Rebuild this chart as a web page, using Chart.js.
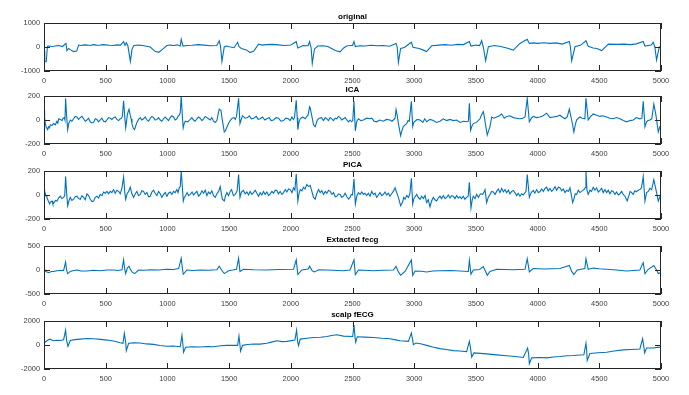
<!DOCTYPE html>
<html lang="en">
<head>
    <meta charset="UTF-8">
    <title>original / ICA / PiCA / Extacted fecg / scalp fECG</title>
    <script src="https://cdn.jsdelivr.net/npm/chart.js"></script>
    <style>
        html, body { margin: 0; padding: 0; background: #fff; }
        body { width: 689px; height: 395px; position: relative; overflow: hidden; }
        .panel { position: absolute; left: 0; width: 689px; height: 86px; }
    </style>
</head>
<body>
    <div class="panel" style="top:3px"><canvas id="c0" width="689" height="86"></canvas></div>
    <div class="panel" style="top:76px"><canvas id="c1" width="689" height="86"></canvas></div>
    <div class="panel" style="top:151px"><canvas id="c2" width="689" height="86"></canvas></div>
    <div class="panel" style="top:226px"><canvas id="c3" width="689" height="86"></canvas></div>
    <div class="panel" style="top:301px"><canvas id="c4" width="689" height="86"></canvas></div>

    <script>
        // sample index (0..5000) and amplitude
        const original = [
            [0,-150],[6,-600],[18,-620],[28,30],[40,40],[60,20],[80,30],[100,50],[120,60],[150,20],[178,150],[186,-150],
            [200,-60],[215,-120],[240,-190],[265,-170],[281,80],[300,60],[325,90],[350,80],[375,60],[400,100],[425,80],[450,70],[475,100],[500,90],
            [530,70],[560,60],[590,90],[620,80],[645,230],[656,70],[667,180],[680,40],[700,-600],[713,-100],[726,50],[760,80],[800,60],
            [830,30],[861,0],[900,-180],[930,-220],[960,-100],[996,60],[1020,80],[1050,60],[1080,90],[1104,40],[1112,320],[1126,40],[1160,60],[1200,70],
            [1250,100],[1300,80],[1350,50],[1400,60],[1420,260],[1430,50],[1442,-600],[1461,10],[1480,40],[1500,10],[1540,-30],[1569,200],[1580,10],
            [1600,-60],[1640,-120],[1670,-230],[1700,-170],[1739,120],[1770,80],[1800,100],[1850,110],[1900,90],[1950,60],[2000,80],[2044,220],[2057,-40],
            [2100,60],[2140,50],[2152,220],[2165,-50],[2174,-680],[2192,-80],[2220,40],[2260,50],[2300,20],[2330,-60],[2360,-150],[2400,-200],
            [2426,-50],[2453,40],[2480,60],[2500,60],[2512,230],[2523,20],[2560,50],[2600,40],[2650,70],[2700,50],[2750,60],[2800,30],[2853,150],[2862,0],
            [2872,-640],[2890,-60],[2920,-20],[2977,200],[2990,-10],[3040,-60],[3070,-120],[3100,-190],[3142,50],[3200,80],[3250,100],[3300,70],[3350,110],[3400,100],
            [3447,230],[3460,40],[3500,80],[3530,60],[3547,260],[3560,0],[3579,-570],[3601,10],[3650,60],[3700,20],[3750,-40],[3803,-130],
            [3857,150],[3916,320],[3933,150],[3970,170],[4000,150],[4050,180],[4100,150],[4150,170],[4200,120],[4257,230],[4266,0],[4276,-580],[4303,10],
            [4350,80],[4392,260],[4410,30],[4450,-40],[4480,-60],[4519,-150],[4573,120],[4640,110],[4700,120],[4750,100],[4800,130],[4856,230],[4870,40],
            [4920,80],[4937,190],[4950,0],[4964,-540],[4986,0],[5000,30]
        ];

        const ica = [
            [0,80],[5,20],[11,-30],[18,-60],[24,-70],[30,-80],[38,-55],[45,-65],[51,-40],[65,-45],[78,-30],[92,-40],
            [105,-10],[112,-25],[119,10],[132,5],[146,-5],[155,15],[165,20],[170,0],[175,180],[183,40],[192,-80],[200,-30],
            [213,0],[226,-10],[240,10],[253,30],[267,25],[280,5],[294,20],[307,30],[321,10],[334,-10],[348,0],[361,15],
            [375,-15],[388,-25],[402,-20],[415,10],[429,5],[442,-15],[456,0],[469,15],[483,-10],[496,-15],[510,0],[523,20],
            [537,15],[550,5],[564,20],[577,25],[591,5],[604,-5],[618,10],[628,15],[635,30],[645,160],[655,20],[662,-65],
            [668,-20],[675,40],[682,70],[689,90],[699,40],[706,10],[713,-30],[724,-70],[734,-80],[743,-50],[753,-20],[766,5],
            [780,20],[793,0],[807,10],[820,25],[834,0],[847,-10],[861,15],[874,30],[888,20],[901,0],[915,5],[928,20],
            [942,0],[955,-10],[969,10],[982,25],[996,10],[1009,-5],[1023,20],[1036,35],[1050,25],[1063,0],[1077,10],[1086,30],
            [1096,40],[1104,60],[1112,200],[1122,20],[1128,-65],[1136,-30],[1145,-10],[1165,-15],[1185,5],[1198,20],[1212,0],[1225,-10],
            [1239,10],[1252,25],[1266,15],[1280,-5],[1293,10],[1306,30],[1320,20],[1333,10],[1347,0],[1360,20],[1374,-10],[1388,-20],
            [1401,-5],[1413,60],[1420,90],[1434,80],[1442,20],[1450,-30],[1461,-100],[1470,-90],[1482,-60],[1495,-30],[1509,-5],[1525,15],
            [1540,20],[1550,5],[1560,30],[1577,180],[1588,-30],[1600,10],[1608,35],[1615,30],[1630,15],[1650,20],[1665,35],[1680,10],
            [1700,15],[1720,30],[1735,5],[1752,10],[1770,25],[1790,0],[1806,10],[1825,20],[1840,-5],[1860,0],[1880,20],[1900,15],
            [1920,-10],[1941,-5],[1960,15],[1980,10],[1995,-5],[2009,25],[2020,5],[2030,20],[2044,165],[2052,20],[2057,-80],[2066,-20],
            [2076,10],[2095,25],[2117,10],[2130,30],[2140,40],[2152,110],[2158,100],[2165,60],[2175,10],[2184,-40],[2198,-55],[2215,0],
            [2230,15],[2250,20],[2258,5],[2265,-5],[2280,20],[2292,10],[2305,-5],[2319,20],[2332,10],[2346,-5],[2360,15],[2373,10],
            [2386,30],[2400,20],[2413,0],[2427,10],[2440,20],[2454,0],[2468,-15],[2480,0],[2492,-15],[2502,-5],[2512,155],[2518,20],
            [2523,-90],[2535,-10],[2548,10],[2568,-5],[2588,0],[2615,15],[2642,10],[2656,15],[2675,-10],[2696,-15],[2720,0],[2750,-10],
            [2775,5],[2804,0],[2820,-10],[2831,0],[2845,15],[2853,87],[2862,40],[2872,-30],[2890,-130],[2900,-90],[2912,-55],[2925,-40],
            [2939,-30],[2950,-5],[2960,-10],[2977,155],[2988,-55],[2997,-20],[3007,-10],[3025,5],[3047,0],[3070,-20],[3085,10],[3101,-15],
            [3128,5],[3155,-5],[3180,-20],[3209,-10],[3235,10],[3263,-5],[3290,5],[3317,-5],[3345,0],[3371,-20],[3400,-10],[3425,-15],
            [3439,-10],[3447,140],[3457,-85],[3468,-50],[3479,-30],[3505,-20],[3533,10],[3545,40],[3560,70],[3568,30],[3575,-20],[3592,-125],
            [3614,-55],[3628,25],[3645,15],[3668,25],[3690,35],[3709,50],[3730,15],[3749,30],[3775,35],[3803,20],[3830,15],[3857,10],
            [3878,15],[3898,25],[3916,180],[3933,-15],[3950,15],[3965,30],[3990,20],[4019,25],[4045,35],[4073,57],[4100,20],[4127,25],
            [4155,30],[4181,40],[4200,25],[4222,10],[4240,25],[4257,90],[4276,0],[4294,-100],[4305,-40],[4316,0],[4330,15],[4343,25],
            [4362,15],[4383,10],[4392,180],[4410,0],[4430,30],[4451,50],[4478,40],[4505,30],[4530,35],[4559,25],[4585,15],[4613,10],
            [4640,20],[4667,10],[4695,-5],[4721,-15],[4750,-5],[4775,0],[4800,20],[4829,10],[4845,15],[4856,155],[4870,-55],[4883,-15],
            [4895,-5],[4910,0],[4925,10],[4942,133],[4959,40],[4978,-100],[4991,-55],[5000,-45]
        ];

        const pica = [
            [0,45],[5,30],[11,10],[18,-10],[24,-20],[35,-50],[46,-75],[55,-55],[65,-50],[72,-75],[78,-70],[92,-45],
            [105,-50],[118,-25],[132,-10],[145,-30],[159,-20],[168,-5],[175,155],[186,-20],[192,-90],[202,-50],[213,-20],[226,-45],
            [240,-35],[253,-15],[267,-10],[280,-30],[294,-35],[307,-5],[321,-20],[334,-40],[348,10],[361,-5],[375,-35],[388,-55],
            [402,-50],[415,-20],[429,-10],[442,-25],[456,5],[470,-5],[483,25],[496,15],[510,30],[523,10],[537,30],[550,20],
            [564,45],[577,15],[591,40],[605,30],[618,10],[632,60],[645,150],[655,20],[662,-35],[673,10],[686,30],[699,65],
            [712,10],[726,-20],[740,10],[753,30],[766,-5],[780,5],[793,35],[807,30],[820,5],[834,20],[847,-15],[861,-10],
            [874,25],[888,40],[901,15],[915,-5],[928,30],[942,10],[955,-20],[969,5],[982,20],[996,-10],[1009,15],[1023,25],
            [1036,5],[1050,30],[1063,20],[1077,45],[1086,20],[1096,60],[1104,70],[1112,200],[1129,-50],[1137,-20],[1145,-10],[1160,20],
            [1172,-5],[1185,5],[1200,25],[1212,0],[1225,15],[1239,30],[1252,-10],[1266,5],[1280,35],[1293,15],[1307,40],[1320,-5],
            [1333,25],[1347,10],[1360,35],[1374,-5],[1388,-20],[1401,10],[1415,30],[1428,70],[1436,20],[1445,-35],[1461,-50],[1470,-10],
            [1482,20],[1495,-5],[1509,30],[1520,45],[1535,-5],[1550,5],[1565,35],[1577,170],[1588,-20],[1600,25],[1615,38],[1630,10],
            [1644,25],[1658,0],[1670,30],[1685,5],[1698,20],[1712,40],[1725,15],[1739,-10],[1752,20],[1765,0],[1779,30],[1792,5],
            [1806,25],[1820,-5],[1833,10],[1847,30],[1860,15],[1874,40],[1887,38],[1900,10],[1914,30],[1928,5],[1941,20],[1955,45],
            [1968,25],[1982,50],[1995,45],[2009,20],[2022,60],[2033,40],[2044,175],[2057,-50],[2066,10],[2076,45],[2090,35],[2103,65],
            [2115,50],[2130,87],[2145,70],[2157,80],[2168,40],[2184,-20],[2198,-35],[2210,10],[2225,45],[2238,20],[2252,35],[2265,5],
            [2280,30],[2292,15],[2306,40],[2319,30],[2333,5],[2346,20],[2360,-15],[2373,-10],[2386,10],[2400,5],[2413,-20],[2427,-10],
            [2440,15],[2454,-15],[2468,-35],[2480,-20],[2490,5],[2500,0],[2512,135],[2523,-75],[2535,-10],[2548,20],[2562,5],[2575,25],
            [2588,5],[2600,15],[2615,-5],[2628,15],[2642,-10],[2656,30],[2670,5],[2683,15],[2696,-20],[2710,0],[2723,20],[2737,-5],
            [2750,5],[2764,25],[2777,0],[2790,15],[2804,-10],[2817,10],[2831,30],[2845,60],[2858,20],[2872,-20],[2890,-90],[2905,-60],
            [2916,-20],[2926,-35],[2940,-5],[2953,-20],[2965,10],[2977,140],[2988,-75],[2997,-30],[3007,-15],[3020,5],[3033,-20],[3047,-35],
            [3060,-10],[3074,-30],[3088,-5],[3101,-63],[3114,-40],[3128,-98],[3141,-50],[3155,-20],[3168,-40],[3182,-50],[3195,-25],[3209,-10],
            [3222,-30],[3236,-5],[3250,-30],[3263,-20],[3277,0],[3290,-25],[3303,-5],[3317,-10],[3330,-30],[3344,-5],[3357,-25],[3371,-15],
            [3384,-30],[3398,-10],[3411,-35],[3425,-20],[3437,-10],[3447,105],[3460,-108],[3470,-40],[3479,-10],[3493,-30],[3506,5],[3520,-20],
            [3537,10],[3555,5],[3564,20],[3574,45],[3587,-63],[3600,-20],[3614,5],[3628,30],[3641,25],[3655,5],[3668,30],[3682,50],
            [3695,20],[3709,55],[3722,25],[3736,45],[3749,20],[3763,40],[3776,10],[3790,30],[3803,38],[3816,20],[3830,-5],[3843,15],
            [3857,-10],[3870,10],[3884,0],[3898,20],[3906,30],[3916,170],[3933,-20],[3948,20],[3965,38],[3978,15],[3992,45],[4005,20],
            [4019,27],[4033,50],[4046,30],[4060,55],[4073,65],[4086,35],[4100,55],[4114,30],[4127,45],[4141,70],[4154,40],[4168,65],
            [4181,60],[4195,35],[4208,50],[4222,20],[4235,40],[4249,30],[4262,60],[4272,10],[4284,-63],[4295,-30],[4305,10],[4316,5],
            [4330,40],[4343,20],[4357,30],[4375,45],[4385,60],[4392,200],[4400,40],[4410,5],[4424,40],[4437,30],[4451,65],[4465,40],
            [4478,60],[4492,25],[4505,38],[4519,55],[4532,20],[4546,45],[4559,20],[4573,40],[4586,10],[4600,35],[4613,30],[4627,5],
            [4640,25],[4654,0],[4667,10],[4681,30],[4694,5],[4708,-10],[4726,-50],[4740,-5],[4750,30],[4762,20],[4775,5],[4788,35],
            [4802,27],[4815,40],[4829,45],[4842,60],[4856,155],[4870,-50],[4883,20],[4897,30],[4910,55],[4924,45],[4932,80],[4942,128],
            [4959,45],[4978,-50],[4991,-15],[5000,-20]
        ];

        const fecg = [
            [0,60],[11,-30],[38,-55],[60,-30],[78,-30],[105,-15],[132,-10],[159,-10],[175,165],[183,0],[192,-75],[213,-30],
            [240,-10],[267,0],[300,-20],[348,-20],[400,-5],[456,-15],[510,0],[564,0],[600,-10],[632,5],[645,210],[655,0],[662,-75],[675,40],[689,80],
            [699,20],[713,-40],[734,-75],[767,0],[810,-5],[861,5],[930,0],[996,15],[1050,10],[1091,30],[1112,245],[1122,20],[1129,-90],
            [1158,0],[1210,-10],[1266,0],[1330,-5],[1401,5],[1420,80],[1442,-10],[1461,-75],[1496,-15],[1530,0],[1560,15],[1577,245],[1588,-30],
            [1615,15],[1700,5],[1806,0],[1900,10],[2022,15],[2044,210],[2057,-95],[2090,0],[2140,20],[2152,80],[2174,-15],[2192,-40],
            [2225,5],[2290,0],[2346,-5],[2426,-15],[2480,0],[2512,210],[2523,-95],[2548,0],[2600,-5],[2669,-15],[2750,-5],[2831,0],[2853,75],
            [2872,-40],[2890,-110],[2926,-30],[2977,210],[2988,-110],[3007,-20],[3060,-25],[3101,-40],[3150,-20],[3209,-15],[3300,-10],[3439,-30],[3447,200],
            [3460,-90],[3479,0],[3530,10],[3560,70],[3579,-30],[3592,-110],[3614,-30],[3668,15],[3740,10],[3803,5],[3898,15],[3916,235],
            [3933,-40],[3965,30],[4050,20],[4181,30],[4257,95],[4276,-30],[4294,-95],[4321,0],[4383,30],[4392,235],[4410,15],
            [4451,40],[4500,25],[4559,15],[4640,0],[4721,-20],[4829,0],[4856,155],[4870,-75],[4897,15],[4942,95],[4964,0],[4978,-75],
            [5000,-55]
        ];

        const scalp = [
            [0,165],[24,350],[46,490],[78,350],[105,400],[132,380],[159,440],[175,1230],[183,400],[194,-110],[213,380],
            [250,450],[294,490],[350,540],[402,520],[460,470],[510,410],[564,330],[618,190],[640,140],[651,960],[662,200],[667,-470],[686,140],
            [730,180],[780,165],[830,90],[888,55],[940,-40],[996,-110],[1050,-80],[1104,-140],[1118,800],[1126,0],[1131,-600],[1148,-190],[1200,-140],[1266,-165],[1320,-120],[1374,-140],
            [1430,-60],[1482,-30],[1569,-30],[1580,740],[1588,0],[1593,-520],[1609,-30],[1650,40],[1698,80],[1750,70],[1806,140],[1850,260],[1887,355],[1930,280],[1968,300],
            [2033,410],[2047,1230],[2055,300],[2063,-55],[2076,490],[2130,560],[2184,630],[2240,650],[2292,710],[2330,790],[2373,850],[2427,740],[2502,710],
            [2512,1670],[2520,700],[2526,220],[2539,690],[2600,660],[2669,630],[2740,560],[2804,520],[2850,430],[2885,355],[2953,300],[2977,990],[2988,400],
            [2993,30],[3015,165],[3060,80],[3101,-30],[3150,-170],[3209,-300],[3260,-380],[3317,-470],[3370,-500],[3425,-550],[3447,300],[3457,-300],[3466,-1010],[3484,-660],
            [3587,-740],[3670,-820],[3749,-900],[3820,-960],[3884,-1040],[3919,-250],[3928,-800],[3933,-1560],[3952,-1070],[4010,-1040],[4073,-1070],[4130,-1000],[4181,-960],[4240,-900],[4289,-880],
            [4375,-820],[4392,140],[4398,-500],[4402,-1290],[4424,-710],[4490,-650],[4559,-600],[4620,-500],[4694,-410],[4760,-370],[4829,-330],[4851,520],[4860,-100],
            [4867,-660],[4883,-250],[4937,-250],[4970,-200],[5000,-165]
        ];

        const titles = ['original', 'ICA', 'PiCA', 'Extacted fecg', 'scalp fECG'];
        const series = [original, ica, pica, fecg, scalp];
        const yLimits = [1000, 200, 200, 500, 2000];
        const xTicksStep = 500;

        const FONT = "'Liberation Sans', Arial, Helvetica, sans-serif";

        // MATLAB-like box, inward ticks on all four sides and bold title
        function matlabAxes(title) {
            return {
                id: 'matlabAxes',
                afterDraw(chart) {
                    const { ctx, chartArea: a, scales } = chart;
                    const tl = 6;
                    ctx.save();
                    ctx.strokeStyle = '#262626';
                    ctx.lineWidth = 1;
                    ctx.beginPath();
                    scales.x.ticks.forEach(t => {
                        const px = Math.round(scales.x.getPixelForValue(t.value)) + 0.5;
                        ctx.moveTo(px, a.bottom); ctx.lineTo(px, a.bottom - tl);
                        ctx.moveTo(px, a.top); ctx.lineTo(px, a.top + tl);
                    });
                    scales.y.ticks.forEach(t => {
                        const py = Math.round(scales.y.getPixelForValue(t.value)) + 0.5;
                        ctx.moveTo(a.left, py); ctx.lineTo(a.left + tl, py);
                        ctx.moveTo(a.right, py); ctx.lineTo(a.right - tl, py);
                    });
                    ctx.stroke();
                    ctx.strokeRect(a.left + 0.5, a.top + 0.5, a.right - a.left - 1, a.bottom - a.top - 1);
                    ctx.fillStyle = '#000';
                    ctx.font = 'bold 8px ' + FONT;
                    ctx.textAlign = 'center';
                    ctx.textBaseline = 'alphabetic';
                    ctx.fillText(title, (a.left + a.right) / 2, a.top - 4);
                    ctx.restore();
                }
            };
        }

        series.forEach((pts, i) => {
            const lim = yLimits[i];
            new Chart(document.getElementById('c' + i), {
                type: 'line',
                data: {
                    datasets: [{
                        data: pts.map(p => ({ x: p[0], y: p[1] })),
                        borderColor: '#0072BD',
                        borderWidth: 1.1,
                        pointRadius: 0,
                        tension: 0
                    }]
                },
                options: {
                    responsive: false,
                    animation: false,
                    events: [],
                    layout: { padding: { top: 20, right: 28, left: 0, bottom: 0 } },
                    plugins: { legend: { display: false }, tooltip: { enabled: false } },
                    scales: {
                        x: {
                            type: 'linear', min: 0, max: 5000,
                            afterFit(s) { s.height = 18; },
                            grid: { display: false, drawTicks: false },
                            border: { display: false },
                            ticks: { stepSize: xTicksStep, padding: 6, maxRotation: 0, autoSkip: false,
                                     callback: v => String(v),
                                     color: '#404040', font: { family: FONT, size: 7.4 } }
                        },
                        y: {
                            min: -lim, max: lim,
                            afterFit(s) { s.width = 44; },
                            grid: { display: false, drawTicks: false },
                            border: { display: false },
                            ticks: { stepSize: lim, padding: 4,
                                     callback: v => String(v),
                                     color: '#404040', font: { family: FONT, size: 7.4 } }
                        }
                    }
                },
                plugins: [matlabAxes(titles[i])]
            });
        });
    </script>
</body>
</html>
